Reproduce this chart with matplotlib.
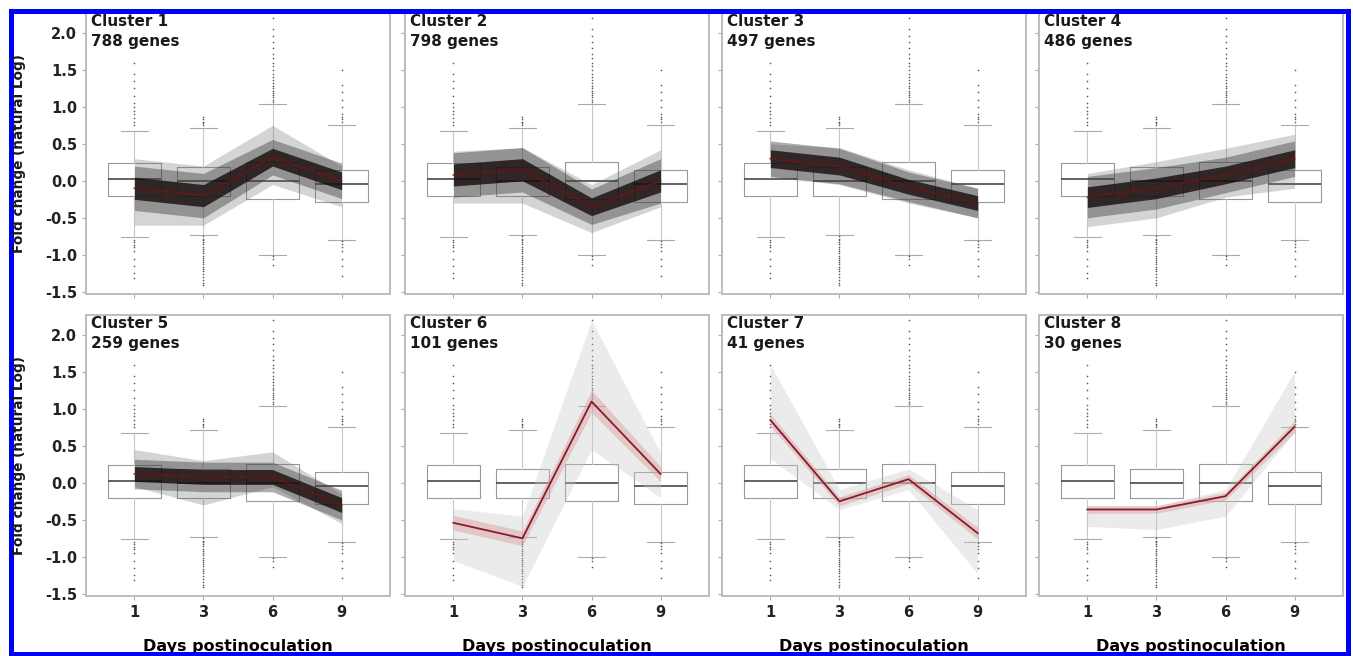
import numpy as np
import matplotlib
matplotlib.use('Agg')
import matplotlib.pyplot as plt
from matplotlib.patches import Rectangle

plt.rcParams['font.family'] = ['DejaVu Sans']

days = ['1', '3', '6', '9']
cluster_names = ['Cluster 1', 'Cluster 2', 'Cluster 3', 'Cluster 4',
                 'Cluster 5', 'Cluster 6', 'Cluster 7', 'Cluster 8']
gene_counts = [788, 798, 497, 486, 259, 101, 41, 30]

# mean profile of each cluster (fold change, natural log)
cluster_means = [
    [-0.10, -0.20, 0.32, 0.00],
    [0.08, 0.15, -0.35, 0.00],
    [0.30, 0.20, -0.08, -0.30],
    [-0.22, -0.10, 0.08, 0.30],
    [0.12, 0.08, 0.08, -0.30],
    [-0.54, -0.75, 1.10, 0.12],
    [0.85, -0.25, 0.05, -0.68],
    [-0.36, -0.36, -0.18, 0.76],
]
# lowest / highest gene traces per day
cluster_lo = [
    [-0.60, -0.60, -0.05, -0.35],
    [-0.30, -0.30, -0.70, -0.35],
    [0.05, -0.05, -0.30, -0.50],
    [-0.62, -0.50, -0.22, -0.10],
    [-0.05, -0.30, -0.05, -0.55],
    [-1.05, -1.40, 0.45, -0.20],
    [0.33, -0.36, -0.09, -1.23],
    [-0.59, -0.63, -0.45, 0.69],
]
cluster_hi = [
    [0.30, 0.20, 0.75, 0.20],
    [0.40, 0.45, -0.05, 0.42],
    [0.50, 0.45, 0.15, -0.10],
    [0.10, 0.26, 0.44, 0.63],
    [0.45, 0.30, 0.42, -0.15],
    [-0.35, -0.45, 2.20, 0.40],
    [1.60, -0.09, 0.19, -0.36],
    [-0.31, -0.31, -0.09, 1.51],
]
# half width of the dense core of traces
cluster_core = [
    [0.15, 0.15, 0.12, 0.12],
    [0.15, 0.15, 0.12, 0.15],
    [0.12, 0.12, 0.10, 0.10],
    [0.14, 0.14, 0.12, 0.12],
    [0.10, 0.10, 0.10, 0.10],
    [0.10, 0.10, 0.15, 0.10],
    [0.08, 0.06, 0.06, 0.08],
    [0.05, 0.05, 0.05, 0.08],
]

# overall distribution of all genes per day (boxplots)
box_q1 = [-0.21, -0.20, -0.25, -0.28]
box_med = [0.03, 0.00, 0.00, -0.04]
box_q3 = [0.24, 0.19, 0.26, 0.15]
whisk_lo = [-0.76, -0.73, -1.00, -0.80]
whisk_hi = [0.68, 0.71, 1.04, 0.76]
outliers = [
    [0.75, 0.80, 0.85, 0.90, 0.95, 1.00, 1.05, 1.15, 1.25, 1.35, 1.45, 1.60,
     -0.80, -0.83, -0.87, -0.90, -0.95, -1.05, -1.15, -1.25, -1.32],
    [0.75, 0.78, 0.80, 0.83, 0.86,
     -0.75, -0.78, -0.80, -0.83, -0.86, -0.89, -0.92, -0.95, -0.98, -1.01,
     -1.04, -1.07, -1.10, -1.13, -1.16, -1.19, -1.22, -1.26, -1.30, -1.34, -1.38, -1.41],
    [1.07, 1.10, 1.13, 1.16, 1.19, 1.22, 1.25, 1.28, 1.32, 1.36, 1.40, 1.45,
     1.50, 1.55, 1.60, 1.66, 1.72, 1.80, 1.88, 1.96, 2.05, 2.20,
     -1.02, -1.05, -1.14],
    [0.80, 0.83, 0.86, 0.90, 1.00, 1.10, 1.20, 1.30, 1.50,
     -0.82, -0.86, -0.90, -0.95, -1.05, -1.15, -1.28],
]

y_ticks = [-1.5, -1.0, -0.5, 0.0, 0.5, 1.0, 1.5, 2.0]

fig = plt.figure(figsize=(13.53, 6.56), dpi=100)

lefts = [86, 405, 722, 1039]
tops = [13, 315]
W, H = 1353.0, 656.0
pw, ph = 304, 281

x = np.arange(len(days))
stats = []
for i in range(len(days)):
    stats.append(dict(med=box_med[i], q1=box_q1[i], q3=box_q3[i],
                      whislo=whisk_lo[i], whishi=whisk_hi[i],
                      fliers=outliers[i]))

for k in range(8):
    row, col = divmod(k, 4)
    ax = fig.add_axes([lefts[col] / W, 1 - (tops[row] + ph) / H, pw / W, ph / H])

    ax.bxp(stats, positions=x, widths=0.76, showfliers=True, capwidths=0.4,
           boxprops=dict(color='#999999', lw=0.8),
           medianprops=dict(color='#555555', lw=1.3),
           whiskerprops=dict(color='#c8c8c8', lw=0.8),
           capprops=dict(color='#aaaaaa', lw=0.8),
           flierprops=dict(marker='.', markersize=2.4, markerfacecolor='#333333',
                           markeredgecolor='none', alpha=0.8),
           zorder=1)

    mean = np.array(cluster_means[k])
    core = np.array(cluster_core[k])
    n = gene_counts[k]
    if n > 200:
        ax.fill_between(x, cluster_lo[k], cluster_hi[k], color='#666666', alpha=0.28,
                        lw=0, zorder=2)
        ax.fill_between(x, mean - 2 * core, mean + 2 * core, color='#333333', alpha=0.4,
                        lw=0, zorder=2)
        ax.fill_between(x, mean - core, mean + core, color='#140808', alpha=0.78,
                        lw=0, zorder=3)
        ax.plot(x, mean, color='#6e1414', lw=1.2, alpha=0.8, zorder=4)
    else:
        ax.fill_between(x, cluster_lo[k], cluster_hi[k], color='#c8c8c8', alpha=0.35,
                        lw=0, zorder=2)
        ax.fill_between(x, mean - core, mean + core, color='#d89c9c', alpha=0.45,
                        lw=0, zorder=3)
        ax.plot(x, mean, color='#8b1a2a', lw=1.3, zorder=4)

    ax.set_xlim(-0.7, 3.7)
    ax.set_ylim(-1.53, 2.27)
    ax.set_yticks(y_ticks)
    ax.set_xticks(x)
    ax.tick_params(colors='#aaaaaa', length=3, width=0.8, labelcolor='#222222',
                   labelsize=10.5)
    if col == 0:
        ax.set_yticklabels([f'{v:.1f}' for v in y_ticks], fontweight='bold')
        fig.text(19 / W, 1 - (tops[row] + ph / 2) / H, 'Fold change (natural Log)',
                 rotation=90, ha='center', va='center', fontsize=9.8,
                 fontweight='bold', color='#1a1a1a')
    else:
        ax.set_yticklabels([])
    if row == 1:
        ax.set_xticklabels(days, fontweight='bold')
        ax.set_xlabel('Days postinoculation', fontsize=11.5, fontweight='bold',
                      labelpad=14)
    else:
        ax.set_xticklabels([])
    for s in ax.spines.values():
        s.set_color('#bdbdbd')
        s.set_linewidth(1.4)

    ax.text(0.015, 0.995, f'{cluster_names[k]}\n{gene_counts[k]} genes',
            transform=ax.transAxes, ha='left', va='top', fontsize=11,
            fontweight='bold', color='#1a1a1a', linespacing=1.35)

fig.patches.append(Rectangle((10.5 / W, 2.0 / H), 1337 / W, 643 / H,
                             transform=fig.transFigure, fill=False,
                             edgecolor='#0000ff', lw=3.6))

fig.savefig('out.png', dpi=100)
